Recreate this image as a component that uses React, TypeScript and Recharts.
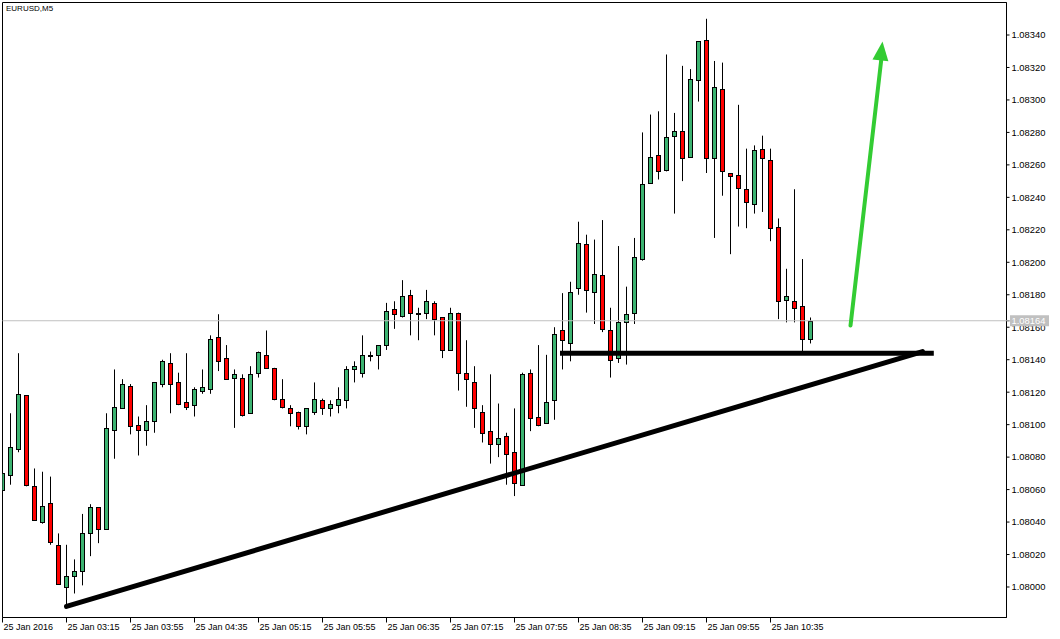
import React from 'react';
import { ComposedChart, Bar, XAxis, YAxis, ReferenceLine, ReferenceArea, Scatter } from 'recharts';

const opens = [
  1.08060, 1.08069, 1.08085, 1.08118, 1.08062, 1.08040, 1.08052, 1.08026, 1.08000, 1.08007,
  1.08010, 1.08033, 1.08049, 1.08036, 1.08097, 1.08110, 1.08124, 1.08100, 1.08097, 1.08102,
  1.08125, 1.08138, 1.08126, 1.08114, 1.08112, 1.08121, 1.08122, 1.08154, 1.08141, 1.08129,
  1.08129, 1.08107, 1.08132, 1.08143, 1.08135, 1.08116, 1.08110, 1.08108, 1.08099, 1.08108,
  1.08115, 1.08110, 1.08112, 1.08115, 1.08134, 1.08132, 1.08143, 1.08143, 1.08149, 1.08171,
  1.08167, 1.08180, 1.08168, 1.08169, 1.08175, 1.08166, 1.08146, 1.08169, 1.08132, 1.08126,
  1.08108, 1.08096, 1.08088, 1.08093, 1.08083, 1.08063, 1.08132, 1.08105, 1.08101, 1.08115,
  1.08158, 1.08150, 1.08184, 1.08211, 1.08182, 1.08192, 1.08158, 1.08141, 1.08163, 1.08169,
  1.08202, 1.08249, 1.08266, 1.08257, 1.08278, 1.08281, 1.08265, 1.08312, 1.08337, 1.08264,
  1.08307, 1.08255, 1.08254, 1.08245, 1.08236, 1.08270, 1.08263, 1.08222, 1.08177, 1.08176,
  1.08173, 1.08153,
];
const highs = [
  1.08072, 1.08107, 1.08144, 1.08118, 1.08073, 1.08071, 1.08068, 1.08033, 1.08026, 1.08017,
  1.08045, 1.08051, 1.08049, 1.08107, 1.08134, 1.08128, 1.08125, 1.08105, 1.08112, 1.08126,
  1.08140, 1.08144, 1.08132, 1.08144, 1.08123, 1.08134, 1.08155, 1.08168, 1.08149, 1.08134,
  1.08131, 1.08136, 1.08145, 1.08158, 1.08135, 1.08128, 1.08112, 1.08108, 1.08110, 1.08126,
  1.08116, 1.08115, 1.08123, 1.08136, 1.08139, 1.08155, 1.08145, 1.08149, 1.08175, 1.08176,
  1.08189, 1.08183, 1.08172, 1.08183, 1.08176, 1.08166, 1.08172, 1.08169, 1.08152, 1.08136,
  1.08112, 1.08131, 1.08113, 1.08095, 1.08110, 1.08132, 1.08134, 1.08149, 1.08143, 1.08160,
  1.08181, 1.08188, 1.08225, 1.08217, 1.08214, 1.08226, 1.08172, 1.08210, 1.08185, 1.08215,
  1.08280, 1.08291, 1.08293, 1.08328, 1.08292, 1.08321, 1.08319, 1.08336, 1.08350, 1.08324,
  1.08323, 1.08255, 1.08297, 1.08270, 1.08272, 1.08278, 1.08270, 1.08227, 1.08196, 1.08245,
  1.08202, 1.08166,
];
const lows = [
  1.08059, 1.08063, 1.08083, 1.08062, 1.08041, 1.08039, 1.08026, 1.08002, 1.07989, 1.07996,
  1.08001, 1.08019, 1.08027, 1.08036, 1.08079, 1.08110, 1.08094, 1.08081, 1.08087, 1.08095,
  1.08123, 1.08107, 1.08112, 1.08109, 1.08105, 1.08119, 1.08119, 1.08133, 1.08128, 1.08098,
  1.08105, 1.08107, 1.08129, 1.08135, 1.08115, 1.08110, 1.08099, 1.08097, 1.08094, 1.08106,
  1.08106, 1.08105, 1.08107, 1.08110, 1.08126, 1.08129, 1.08139, 1.08134, 1.08146, 1.08159,
  1.08166, 1.08155, 1.08152, 1.08165, 1.08155, 1.08141, 1.08146, 1.08121, 1.08111, 1.08098,
  1.08089, 1.08076, 1.08080, 1.08063, 1.08056, 1.08063, 1.08096, 1.08099, 1.08101, 1.08103,
  1.08134, 1.08139, 1.08180, 1.08169, 1.08162, 1.08157, 1.08129, 1.08138, 1.08137, 1.08162,
  1.08201, 1.08249, 1.08251, 1.08256, 1.08230, 1.08250, 1.08265, 1.08299, 1.08255, 1.08215,
  1.08241, 1.08205, 1.08222, 1.08221, 1.08230, 1.08231, 1.08213, 1.08165, 1.08163, 1.08163,
  1.08145, 1.08150,
];
const closes = [
  1.08070, 1.08086, 1.08119, 1.08063, 1.08041, 1.08050, 1.08028, 1.08002, 1.08007, 1.08010,
  1.08033, 1.08049, 1.08036, 1.08098, 1.08111, 1.08125, 1.08099, 1.08097, 1.08102, 1.08126,
  1.08139, 1.08125, 1.08113, 1.08111, 1.08122, 1.08123, 1.08153, 1.08139, 1.08128, 1.08131,
  1.08106, 1.08131, 1.08145, 1.08135, 1.08116, 1.08111, 1.08107, 1.08099, 1.08110, 1.08116,
  1.08110, 1.08113, 1.08116, 1.08134, 1.08136, 1.08143, 1.08142, 1.08149, 1.08170, 1.08168,
  1.08179, 1.08169, 1.08169, 1.08176, 1.08165, 1.08146, 1.08169, 1.08132, 1.08128, 1.08110,
  1.08095, 1.08088, 1.08092, 1.08082, 1.08064, 1.08131, 1.08104, 1.08100, 1.08114, 1.08156,
  1.08152, 1.08182, 1.08212, 1.08183, 1.08193, 1.08159, 1.08140, 1.08163, 1.08168, 1.08203,
  1.08248, 1.08265, 1.08256, 1.08277, 1.08281, 1.08264, 1.08313, 1.08336, 1.08264, 1.08308,
  1.08256, 1.08253, 1.08246, 1.08237, 1.08269, 1.08264, 1.08221, 1.08176, 1.08179, 1.08172,
  1.08153, 1.08164,
];

const xTickBars = [0, 8, 16, 24, 32, 40, 48, 56, 64, 72, 80, 88, 96];
const xTickLabels = [
  '25 Jan 2016', '25 Jan 03:15', '25 Jan 03:55', '25 Jan 04:35', '25 Jan 05:15',
  '25 Jan 05:55', '25 Jan 06:35', '25 Jan 07:15', '25 Jan 07:55', '25 Jan 08:35',
  '25 Jan 09:15', '25 Jan 09:55', '25 Jan 10:35',
];
const yTickValues = [
  1.08000, 1.08020, 1.08040, 1.08060, 1.08080, 1.08100, 1.08120, 1.08140, 1.08160,
  1.08180, 1.08200, 1.08220, 1.08240, 1.08260, 1.08280, 1.08300, 1.08320, 1.08340,
];
const currentPrice = 1.08164;

const trendLine = [{ k: 8, p: 1.07988 }, { k: 115, p: 1.08145 }];
const supportLine = [{ k: 70, p: 1.08144 }, { k: 116.1, p: 1.08144 }];
const arrowShaft = [{ k: 106, p: 1.08161 }, { k: 109.85, p: 1.08325 }];
const arrowTip = [{ k: 110, p: 1.08336 }];

const X_DOMAIN: [number, number] = [0, 125.5];
const Y_DOMAIN: [number, number] = [1.0798121, 1.0836002];

const GREEN = '#3cb371';
const RED = '#ff0000';
const ARROW = '#33cc33';
const FONT = '"Liberation Sans", Arial, sans-serif';

const candles = opens.map((o, i) => ({
  k: i,
  open: o,
  high: highs[i],
  low: lows[i],
  close: closes[i],
  range: [lows[i], highs[i]],
}));

const Candle = (props: any) => {
  const { x, y, width, height, payload } = props;
  if (x == null || y == null || !payload) return null;
  const { open, close, high, low } = payload;
  const top = Math.min(y, y + height);
  const h = Math.abs(height);
  const ppp = high - low > 0 ? h / (high - low) : 0;
  const py = (p: number) => top + (high - p) * ppp;
  const cx = Math.floor(x + width / 2) + 0.5;
  const bt = Math.round(py(Math.max(open, close))) + 0.5;
  const bb = Math.round(py(Math.min(open, close))) + 0.5;
  const up = close >= open;
  return (
    <g>
      <line x1={cx} x2={cx} y1={top} y2={top + h} stroke="#000" strokeWidth={1} />
      <rect x={cx - 2} y={bt} width={4} height={Math.max(bb - bt, 1)} fill={up ? GREEN : RED} stroke="#000" strokeWidth={1} />
    </g>
  );
};

const XTick = (props: any) => {
  const { x, y, payload } = props;
  const i = xTickBars.indexOf(payload.value);
  if (i < 0) return null;
  return (
    <text x={x + 1} y={y} dy="0.71em" fontSize={9} fontFamily={FONT} fill="#000" textAnchor="start">
      {xTickLabels[i]}
    </text>
  );
};

const YTick = (props: any) => {
  const { x, y, payload } = props;
  const v = payload.value as number;
  if (Math.abs(v - currentPrice) < 1e-9) {
    return (
      <g>
        <line x1={x - 6} x2={x - 1} y1={y} y2={y} stroke="#c0c0c0" strokeWidth={1} />
        <rect x={x - 1.5} y={y - 5.5} width={39} height={11} fill="#c0c0c0" />
        <text x={x} y={y} dy="0.36em" fontSize={9.4} fontFamily={FONT} fill="#ffffff" textAnchor="start">
          {v.toFixed(5)}
        </text>
      </g>
    );
  }
  return (
    <text x={x} y={y} dy="0.36em" fontSize={9.4} fontFamily={FONT} fill="#000" textAnchor="start">
      {v.toFixed(5)}
    </text>
  );
};

const ArrowHead = (props: any) => {
  const { cx, cy } = props;
  if (cx == null || cy == null) return null;
  return (
    <polygon
      points="0,0 -8,19 8,19"
      fill={ARROW}
      transform={`translate(${cx},${cy}) rotate(6.3)`}
    />
  );
};

export default function App() {
  return (
    <div style={{ position: 'absolute', left: 0, top: 0, width: 1060, height: 639, background: '#fff' }}>
      <ComposedChart
        width={1060}
        height={639}
        data={candles}
        margin={{ top: 2.5, right: 0, bottom: 0, left: 2.5 }}
        style={{ fontFamily: FONT }}
      >
        <XAxis
          dataKey="k"
          type="number"
          domain={X_DOMAIN}
          allowDataOverflow
          ticks={xTickBars}
          interval={0}
          height={21.5}
          tickSize={5}
          tickMargin={1}
          axisLine={{ stroke: '#000' }}
          tickLine={{ stroke: '#000' }}
          tick={<XTick />}
        />
        <YAxis
          orientation="right"
          type="number"
          domain={Y_DOMAIN}
          allowDataOverflow
          ticks={[...yTickValues, currentPrice]}
          interval={0}
          width={53.5}
          tickSize={3}
          tickMargin={2}
          axisLine={{ stroke: '#000' }}
          tickLine={{ stroke: '#000' }}
          tick={<YTick />}
        />
        <ReferenceArea x1={X_DOMAIN[0]} x2={X_DOMAIN[1]} y1={Y_DOMAIN[0]} y2={Y_DOMAIN[1]} fill="none" fillOpacity={0} stroke="#000" strokeWidth={1} />
        <ReferenceLine y={currentPrice} stroke="#c0c0c0" strokeWidth={1} />
        <Bar dataKey="range" barSize={5} shape={<Candle />} isAnimationActive={false} />
        <ReferenceLine
          segment={[{ x: trendLine[0].k, y: trendLine[0].p }, { x: trendLine[1].k, y: trendLine[1].p }]}
          stroke="#000"
          strokeWidth={5}
          strokeLinecap="round"
        />
        <ReferenceLine
          segment={[{ x: supportLine[0].k, y: supportLine[0].p }, { x: supportLine[1].k, y: supportLine[1].p }]}
          stroke="#000"
          strokeWidth={5}
          strokeLinecap="square"
        />
        <ReferenceLine
          segment={[{ x: arrowShaft[0].k, y: arrowShaft[0].p }, { x: arrowShaft[1].k, y: arrowShaft[1].p }]}
          stroke={ARROW}
          strokeWidth={4}
          strokeLinecap="round"
        />
        <Scatter data={arrowTip.map((d) => ({ k: d.k, p: d.p }))} dataKey="p" shape={<ArrowHead />} isAnimationActive={false} />
      </ComposedChart>
      <div
        style={{
          position: 'absolute',
          left: 6,
          top: 4,
          fontFamily: FONT,
          fontSize: 8,
          lineHeight: '10px',
          color: '#000',
          pointerEvents: 'none',
        }}
      >
        EURUSD,M5
      </div>
    </div>
  );
}
